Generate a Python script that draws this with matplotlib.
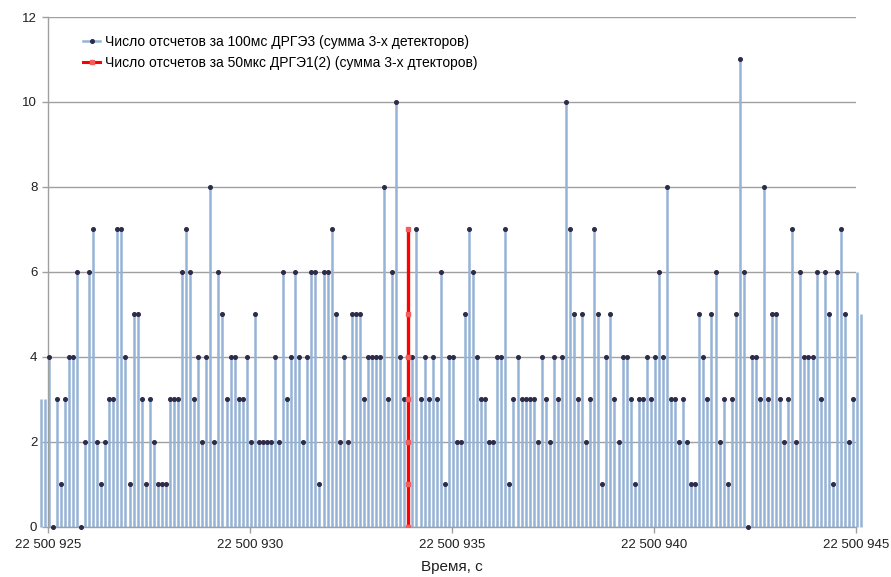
import matplotlib
matplotlib.use("Agg")
import matplotlib.pyplot as plt
from matplotlib.ticker import FuncFormatter, MultipleLocator
from matplotlib.lines import Line2D
import numpy as np

plt.rcParams["font.family"] = ["Liberation Sans", "DejaVu Sans"]

# ДРГЭ3: counts per 100 ms, sum of 3 detectors (0.1 s steps starting at t_start)
t_start = 22500924.825
dt = 0.1
counts_100ms = [
    3, 3,
    4, 0, 3, 1, 3, 4, 4, 6, 0, 2, 6, 7, 2, 1, 2, 3, 3, 7, 7, 4, 1, 5, 5, 3,
    1, 3, 2, 1, 1, 1, 3, 3, 3, 6, 7, 6, 3, 4, 2, 4, 8, 2, 6, 5, 3, 4, 4, 3, 3, 4,
    2, 5, 2, 2, 2, 2, 4, 2, 6, 3, 4, 6, 4, 2, 4, 6, 6, 1, 6, 6, 7, 5, 2, 4, 2, 5,
    5, 5, 3, 4, 4, 4, 4, 8, 3, 6, 10, 4, 3, 4, 4, 7, 3, 4, 3, 4, 3, 6, 1, 4, 4, 2,
    2, 5, 7, 6, 4, 3, 3, 2, 2, 4, 4, 7, 1, 3, 4, 3, 3, 3, 3, 2, 4, 3, 2, 4, 3, 4,
    10, 7, 5, 3, 5, 2, 3, 7, 5, 1, 4, 5, 3, 2, 4, 4, 3, 1, 3, 3, 4, 3, 4, 6, 4, 8,
    3, 3, 2, 3, 2, 1, 1, 5, 4, 3, 5, 6, 2, 3, 1, 3, 5, 11, 6, 0, 4, 4, 3, 8, 3, 5,
    5, 3, 2, 3, 7, 2, 6, 4, 4, 4, 6, 3, 6, 5, 1, 6, 7, 5, 2, 3,
    6, 5,
]

# ДРГЭ1(2): counts per 50 us around one moment
t_burst = 22500933.92
counts_50us = [0, 1, 2, 3, 4, 5, 7]

x_min, x_max = 22500925, 22500945
label_blue = "Число отсчетов за 100мс ДРГЭ3 (сумма 3-х детекторов)"
label_red = "Число отсчетов за 50мкс ДРГЭ1(2) (сумма 3-х дтекторов)"

blue = "#95B3D7"
dot = "#2E2B4A"
red = "#FF0000"
grid = "#A0A0A0"

t = t_start + dt * np.arange(len(counts_100ms))
v = np.array(counts_100ms)

fig = plt.figure(figsize=(8.91, 5.77), dpi=100)
ax = fig.add_axes([0.0535, 0.0872, 0.9072, 0.8833])

ax.vlines(t, 0, v, colors=blue, linewidth=1.8, clip_on=False, zorder=2)
inside = (t >= x_min) & (t <= x_max)
ax.plot(t[inside], v[inside], linestyle="none", marker="o", markersize=2.6,
        color=dot, zorder=3, clip_on=False)

ax.plot([t_burst] * len(counts_50us), counts_50us, color=red, linewidth=2.4,
        marker="s", markersize=2.5, markerfacecolor="#F06060",
        markeredgecolor="#F06060", zorder=4)

ax.set_xlim(x_min, x_max)
ax.set_ylim(0, 12)
ax.xaxis.set_major_locator(MultipleLocator(5))
ax.yaxis.set_major_locator(MultipleLocator(2))
ax.xaxis.set_major_formatter(FuncFormatter(lambda x, p: f"{int(round(x)):,}".replace(",", " ")))
ax.yaxis.set_major_formatter(FuncFormatter(lambda y, p: f"{int(y)}"))

ax.grid(axis="y", color=grid, linewidth=1.0, zorder=0)
ax.set_axisbelow(True)
for s in ["top", "right"]:
    ax.spines[s].set_visible(False)
for s in ["left", "bottom"]:
    ax.spines[s].set_color(grid)
    ax.spines[s].set_linewidth(1.0)
ax.tick_params(axis="both", colors=grid, length=4, width=1.0, labelsize=9.5,
               labelcolor="#202020")
ax.tick_params(axis="x", pad=5)

ax.set_xlabel("Время, с", fontsize=11, color="#202020", labelpad=6)

handles = [
    Line2D([], [], color=blue, linewidth=1.8, marker="o", markersize=2.6,
           markerfacecolor=dot, markeredgecolor=dot),
    Line2D([], [], color=red, linewidth=2.2, marker="s", markersize=2.5,
           markerfacecolor="#F06060", markeredgecolor="#F06060"),
]
ax.legend(handles, [label_blue, label_red], loc="upper left",
          bbox_to_anchor=(0.044, 0.965), frameon=False, fontsize=10,
          handlelength=1.2, handletextpad=0.4, borderpad=0, borderaxespad=0,
          labelspacing=0.5)

fig.savefig("out.png", dpi=100)
